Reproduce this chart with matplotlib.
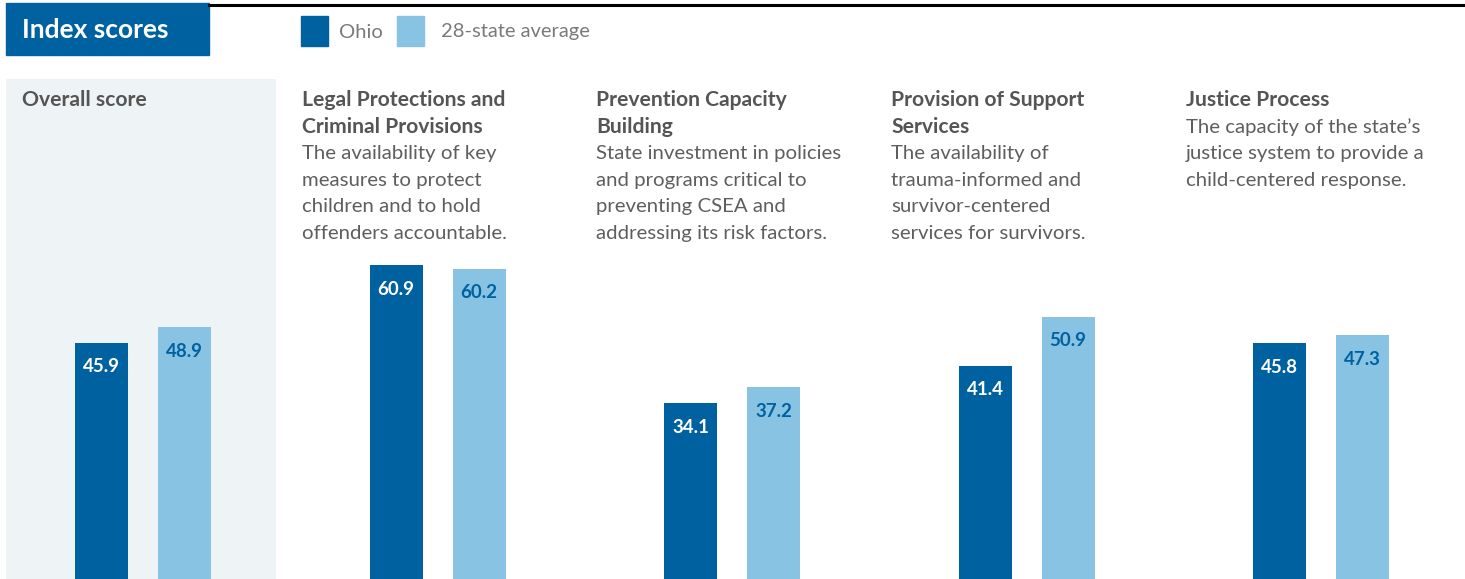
"""Index scores: Ohio vs 28-state average, grouped bars by domain."""

import matplotlib

matplotlib.use("Agg")
import matplotlib.pyplot as plt
import numpy as np

categories = [
    "Overall score",
    "Legal Protections and\nCriminal Provisions",
    "Prevention Capacity\nBuilding",
    "Provision of Support\nServices",
    "Justice Process",
]
descriptions = [
    "",
    "The availability of key\nmeasures to protect\nchildren and to hold\noffenders accountable.",
    "State investment in policies\nand programs critical to\npreventing CSEA and\naddressing its risk factors.",
    "The availability of\ntrauma-informed and\nsurvivor-centered\nservices for survivors.",
    "The capacity of the state\u2019s\njustice system to provide a\nchild-centered response.",
]
ohio = [45.9, 60.9, 34.1, 41.4, 45.8]
state_avg = [48.9, 60.2, 37.2, 50.9, 47.3]
series_names = ["Ohio", "28-state average"]

DARK = "#0061A0"
LIGHT = "#88C3E3"
PANEL = "#EEF4F5"
TITLE_GREY = "#555555"
TEXT_GREY = "#5E5E5E"
LEGEND_GREY = "#7A7A7A"

W, H = 1465, 579
plt.rcParams["font.family"] = ["Lato", "DejaVu Sans"]

fig = plt.figure(figsize=(W / 100, H / 100), dpi=100)


def fx(px):
    return px / W


def fy(py):
    return 1 - py / H


# layout in pixels: group spacing and bar geometry
GROUP_PX = 294.5
FIRST_CENTER = 143.0
PX_PER_UNIT = 5.15
AX_TOP = 79

ax = fig.add_axes([0, 0, 1, fy(AX_TOP)])
ax.set_xlim(-FIRST_CENTER / GROUP_PX, (W - FIRST_CENTER) / GROUP_PX)
ax.set_ylim(0, (H - AX_TOP) / PX_PER_UNIT)
ax.axis("off")

# shaded panel behind overall score
ax.axvspan((6 - FIRST_CENTER) / GROUP_PX, (276 - FIRST_CENTER) / GROUP_PX,
           color=PANEL, zorder=0, lw=0)

x = np.arange(len(categories))
width = 53 / GROUP_PX
offset = 41.5 / GROUP_PX
ax.bar(x - offset, ohio, width, color=DARK, zorder=2)
ax.bar(x + offset, state_avg, width, color=LIGHT, zorder=2)

for xi, v in zip(x - offset, ohio):
    ax.annotate(f"{v:.1f}", (xi, v), xytext=(0, -24 * 0.72),
                textcoords="offset points", ha="center", va="center",
                color="white", fontsize=13.5, fontweight="bold")
for xi, v in zip(x + offset, state_avg):
    ax.annotate(f"{v:.1f}", (xi, v), xytext=(0, -24 * 0.72),
                textcoords="offset points", ha="center", va="center",
                color=DARK, fontsize=13.5, fontweight="bold")

# group titles and descriptions
LINE_PX = 26.75
for i, (title, desc) in enumerate(zip(categories, descriptions)):
    left = 22 if i == 0 else 302 + GROUP_PX * (i - 1)
    lines = title.split("\n")
    for k, line in enumerate(lines):
        fig.text(fx(left), fy(100 + LINE_PX * k), line, ha="left", va="center",
                 fontsize=15.2, fontweight="bold", color=TITLE_GREY)
    if desc:
        for k, line in enumerate(desc.split("\n")):
            fig.text(fx(left), fy(100 + LINE_PX * (k + len(lines))), line,
                     ha="left", va="center", fontsize=14.7, color=TEXT_GREY)

# header box and rule
fig.patches.append(plt.Rectangle((fx(6), fy(55)), fx(203), fy(3) - fy(55),
                                 transform=fig.transFigure, color=DARK))
fig.text(fx(22), fy(30), "Index scores", ha="left", va="center",
         fontsize=19, fontweight="bold", color="white")
fig.add_artist(plt.Line2D([fx(209), 1], [fy(4.5), fy(4.5)],
                          transform=fig.transFigure, color="black", lw=2.2))

# legend
for sx, color, name in [(301, DARK, series_names[0]), (397, LIGHT, series_names[1])]:
    fig.patches.append(plt.Rectangle((fx(sx), fy(46)), fx(27), fy(16) - fy(46),
                                     transform=fig.transFigure, color=color))
    fig.text(fx(sx + 38 if sx == 301 else sx + 44), fy(32), name, ha="left",
             va="center", fontsize=14.5, color=LEGEND_GREY)

fig.savefig("out.png", dpi=100, facecolor="white")
